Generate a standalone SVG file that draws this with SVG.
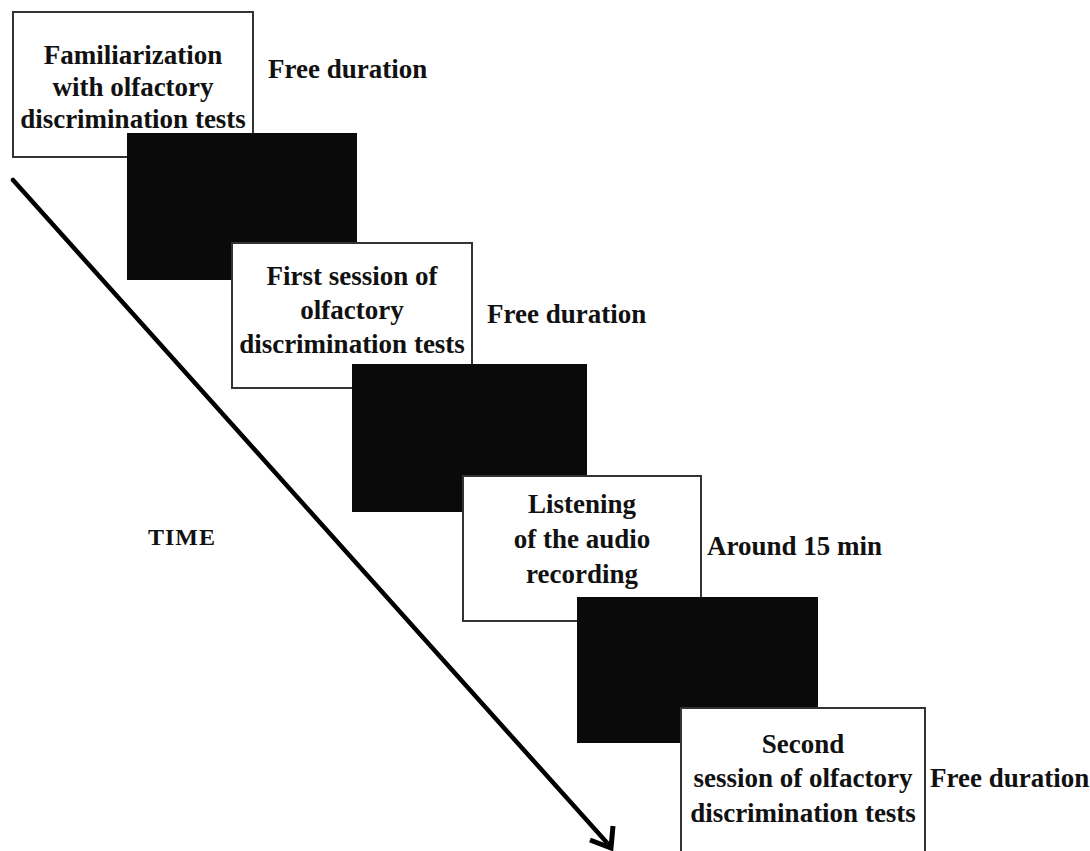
<svg xmlns="http://www.w3.org/2000/svg" width="1090" height="851" viewBox="0 0 1090 851">
<style>
.box{fill:#fff;stroke:#333;stroke-width:2}
.blk{fill:#0a0a0a}
text{font-family:"Liberation Serif","Times New Roman",serif;font-weight:bold;font-size:27px;fill:#111}
.c{text-anchor:middle}
</style>
<rect width="1090" height="851" fill="#fff"/>
<g id="connectors">
<line x1="13" y1="180" x2="609" y2="845" stroke="#000" stroke-width="4.5" stroke-linecap="round"/>
<polyline points="590,840 611,848 613,826" fill="none" stroke="#000" stroke-width="5" stroke-linecap="butt" stroke-linejoin="miter"/>
</g>
<g id="step1">
<rect class="box" x="13" y="12" width="240" height="145"/>
<text class="c" x="133" y="64">Familiarization</text>
<text class="c" x="133" y="96">with olfactory</text>
<text class="c" x="133" y="128">discrimination tests</text>
<text x="268" y="78">Free duration</text>
</g>
<g id="pause1"><rect class="blk" x="127" y="133" width="230" height="147"/></g>
<g id="step2">
<rect class="box" x="232" y="243" width="240" height="145"/>
<text class="c" x="352" y="285">First session of</text>
<text class="c" x="352" y="319">olfactory</text>
<text class="c" x="352" y="353">discrimination tests</text>
<text x="487" y="323">Free duration</text>
</g>
<g id="pause2"><rect class="blk" x="352" y="364" width="235" height="148"/></g>
<g id="step3">
<rect class="box" x="463" y="476" width="238" height="145"/>
<text class="c" x="582" y="513">Listening</text>
<text class="c" x="582" y="548">of the audio</text>
<text class="c" x="582" y="583">recording</text>
<text x="707" y="555">Around 15 min</text>
</g>
<g id="pause3"><rect class="blk" x="577" y="597" width="241" height="146"/></g>
<g id="step4">
<rect class="box" x="681" y="708" width="244" height="160"/>
<text class="c" x="803" y="753">Second</text>
<text class="c" x="803" y="787">session of olfactory</text>
<text class="c" x="803" y="822">discrimination tests</text>
<text x="930" y="787">Free duration</text>
</g>
<g id="time-label"><text x="148" y="545" style="font-size:24px;letter-spacing:1px">TIME</text></g>
</svg>
